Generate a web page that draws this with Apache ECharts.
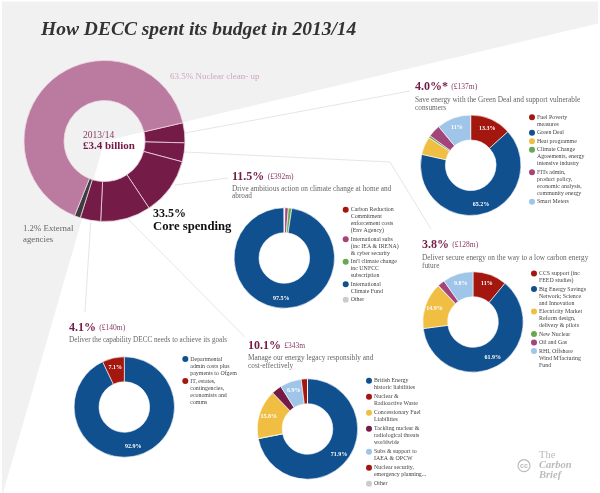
<!DOCTYPE html>
<html>
<head>
<meta charset="utf-8">
<title>How DECC spent its budget in 2013/14</title>
<script src="https://cdn.jsdelivr.net/npm/echarts@6/dist/echarts.min.js"></script>
<style>
html,body{margin:0;padding:0;background:#fff}
#chart{width:600px;height:493px}
</style>
</head>
<body>
<div id="chart"></div>
<script>
var FONT = '"Liberation Serif", serif';
var BLUE = '#10508f', RED = '#a3170f', GOLD = '#efbe43', GREEN = '#6aa84f', PINK = '#a3447a', SKY = '#9fc5e8', GREY = '#cccccc', PLUM = '#741b47';

// main ring, clockwise from the top of the core block
var budgetNames = ['Save energy', 'Secure energy', 'Climate action', 'Energy legacy', 'Capability', 'External agencies', 'Nuclear clean-up'];
var budgetValues = [4.0, 3.8, 11.5, 10.1, 4.1, 1.2, 65.3];
var budgetColors = [PLUM, PLUM, PLUM, PLUM, PLUM, '#3d3d3d', '#bb7a9f'];

var saveNames = ['Fuel Poverty\nmeasures', 'Green Deal', 'Heat programme', 'Climate Change\nAgreements, energy\nintensive industry', 'FITs admin,\nproduct policy,\neconomic analysis,\ncommunity energy', 'Smart Meters'];
var saveValues = [13.3, 65.2, 5.8, 0.7, 4.0, 11];
var saveColors = [RED, BLUE, GOLD, GREEN, PINK, SKY];

var secureNames = ['CCS support (inc\nFEED studies)', 'Big Energy Savings\nNetwork; Science\nand Innovation', 'Electricity Market\nReform design,\ndelivery & pilots', 'New Nuclear', 'Oil and Gas', 'RHI, Offshore\nWind M\'facturing\nFund'];
var secureValues = [11, 61.9, 14.9, 0.1, 2.3, 9.8];
var secureColors = [RED, BLUE, GOLD, GREEN, PINK, SKY];

var climateNames = ['Carbon Reduction\nCommitment\nenforcement costs\n(Env Agency)', 'International subs\n(inc IEA & IRENA)\n& cyber security', 'Int\'l climate change\ninc UNFCC\nsubscription', 'International\nClimate Fund', 'Other'];
var climateValues = [0.2, 1.1, 1.1, 97.5, 0.1];
var climateColors = [RED, PINK, GREEN, BLUE, GREY];

var capabilityNames = ['Departmental\nadmin costs plus\npayments to Ofgem', 'IT, estates,\ncontingencies,\neconomists and\ncomms'];
var capabilityValues = [92.9, 7.1];
var capabilityColors = [BLUE, RED];

var legacyNames = ['British Energy\nhistoric liabilities', 'Nuclear &\nRadioactive Waste', 'Concessionary Fuel\nLiabilities', 'Tackling nuclear &\nradiological threats\nworldwide', 'Subs & support to\nIAEA & OPCW', 'Nuclear security,\nemergency planning...', 'Other'];
var legacyValues = [71.9, 0.1, 15.8, 3.3, 6.9, 2.0, 0];
var legacyColors = [BLUE, RED, GOLD, PLUM, SKY, '#a3170f', GREY];

function pie(names, values, colors, cx, cy){
  return {
    type: 'pie', center: [cx, cy], radius: [25.3, 50.2], startAngle: 90, clockwise: true,
    silent: true, animation: false, minShowLabelAngle: 0, labelLine: {show: false},
    itemStyle: {borderColor: '#ffffff', borderWidth: 0.6},
    label: {position: 'inside', color: '#fff', fontFamily: FONT, fontSize: 6, fontWeight: 'bold', formatter: '{c}%'},
    data: values.map(function(v, i){
      return {
        name: names[i].replace(/\n/g, ' '), value: v,
        itemStyle: {color: colors[i]},
        label: {show: v >= 6}
      };
    })
  };
}

// hand made key so the dot sits on the first line of a wrapped name
function key(names, colors, x, y, gap){
  var out = [], top = y;
  names.forEach(function(n, i){
    var lines = n.split('\n').length;
    out.push({type: 'circle', z: 5, silent: true, shape: {cx: x, cy: top, r: 3}, style: {fill: colors[i]}});
    out.push({type: 'text', z: 5, silent: true, x: x + 5, y: top - 3.5, style: {text: n, fontFamily: FONT, fontSize: 5.9, lineHeight: 7, fill: '#444', textAlign: 'left', textVerticalAlign: 'top'}});
    top += lines * 7 + gap;
  });
  return out;
}

function label(txt, x, y, size, color, weight, style){
  return {type: 'text', z: 5, silent: true, x: x, y: y, style: {text: txt, fontFamily: FONT, fontSize: size, fontWeight: weight || 'normal', fontStyle: style || 'normal', fill: color, textVerticalAlign: 'middle'}};
}

function head(pct, cost, x, y){
  return {type: 'text', z: 5, silent: true, x: x, y: y, style: {
    text: '{a|' + pct + '} {b|' + cost + '}', textVerticalAlign: 'middle',
    rich: {a: {fontFamily: FONT, fontSize: 12, fontWeight: 'bold', fill: PLUM}, b: {fontFamily: FONT, fontSize: 7.5, fill: '#8a3a63'}}
  }};
}

function rule(points){
  return {type: 'polyline', z: 1, silent: true, shape: {points: points}, style: {fill: null, stroke: '#e6e6e6', lineWidth: 1}};
}

var decor = [
  {type: 'rect', z: 0, silent: true, shape: {x: 2, y: 1.5, width: 596, height: 491.5}, style: {fill: '#f1f1f1'}},
  {type: 'polygon', z: 0, silent: true, shape: {points: [[104.5, 141], [600, 23], [600, 493], [3, 493]]}, style: {fill: '#fff'}},
  rule([[185, 133], [410, 91]]),
  rule([[185, 152], [390, 162], [431, 229]]),
  rule([[175, 185], [228, 178]]),
  rule([[128, 219], [245, 337]]),
  rule([[90.7, 222], [85, 312]]),
  label('How DECC spent its budget in 2013/14', 41, 30, 19.5, '#333', 'bold', 'italic'),
  label('63.5% Nuclear clean- up', 170, 77, 9, '#cfa6bf'),
  label('2013/14', 83, 135.5, 9.5, '#8a3a63'),
  label('£3.4 billion', 83, 146, 11, PLUM, 'bold'),
  label('33.5%', 153, 214, 12, '#111', 'bold'),
  label('Core spending', 153, 226.5, 12.7, '#111', 'bold'),
  label('1.2% External', 23, 229, 8.8, '#666'),
  label('agencies', 23, 239.5, 8.8, '#666'),
  head('4.0%*', '(£137m)', 415, 87),
  label('Save energy with the Green Deal and support vulnerable', 415, 100, 7.3, '#666'),
  label('consumers', 415, 108.5, 7.3, '#666'),
  head('3.8%', '(£128m)', 422, 245),
  label('Deliver secure energy on the way to a low carbon energy', 422, 258, 7.3, '#666'),
  label('future', 422, 266, 7.3, '#666'),
  head('11.5%', '(£392m)', 232, 177),
  label('Drive ambitious action on climate change at home and', 232, 189, 7.3, '#666'),
  label('abroad', 232, 196.5, 7.3, '#666'),
  head('4.1%', '(£140m)', 69, 328),
  label('Deliver the capability DECC needs to achieve its goals', 69, 340.5, 7.2, '#666'),
  head('10.1%', '£343m', 248, 346),
  label('Manage our energy legacy responsibly and', 248, 358.5, 7.3, '#666'),
  label('cost-effectively', 248, 366.5, 7.3, '#666'),
  {type: 'circle', z: 5, silent: true, shape: {cx: 524, cy: 465.7, r: 6}, style: {fill: null, stroke: '#bbb', lineWidth: 1.2}},
  {type: 'text', z: 5, silent: true, x: 524, y: 466, style: {text: 'cc', fontFamily: '"Liberation Sans", sans-serif', fontSize: 7, fontWeight: 'bold', fill: '#bbb', textAlign: 'center', textVerticalAlign: 'middle'}},
  label('The', 539, 455.5, 10.5, '#bbb'),
  label('Carbon', 539, 465.5, 10.5, '#bbb', 'bold', 'italic'),
  label('Brief', 539, 475.5, 10.5, '#bbb', 'bold', 'italic')
].concat(
  key(saveNames, saveColors, 532, 117.3, 1.5),
  key(secureNames, secureColors, 534, 273.5, 1.5),
  key(climateNames, climateColors, 345.7, 209.7, 1.5),
  key(capabilityNames, capabilityColors, 185.3, 359, 1),
  key(legacyNames, legacyColors, 369, 380.7, 2)
);

var chart = echarts.init(document.getElementById('chart'), null, {renderer: 'canvas'});
chart.setOption({
  animation: false,
  backgroundColor: '#ffffff',
  graphic: {elements: decor},
  series: [
    {
      type: 'pie', center: [104.5, 141], radius: [40.5, 80.5], startAngle: 13.1, clockwise: true,
      silent: true, animation: false, label: {show: false}, labelLine: {show: false},
      itemStyle: {borderColor: '#ecd5e2', borderWidth: 0.8},
      data: budgetValues.map(function(v, i){
        return {name: budgetNames[i], value: v, itemStyle: {color: budgetColors[i]}};
      })
    },
    pie(saveNames, saveValues, saveColors, 470.7, 165.3),
    pie(secureNames, secureValues, secureColors, 473, 322),
    pie(climateNames, climateValues, climateColors, 284.3, 258),
    pie(capabilityNames, capabilityValues, capabilityColors, 124.3, 407),
    pie(legacyNames, legacyValues, legacyColors, 307.5, 429)
  ]
});
</script>
</body>
</html>
